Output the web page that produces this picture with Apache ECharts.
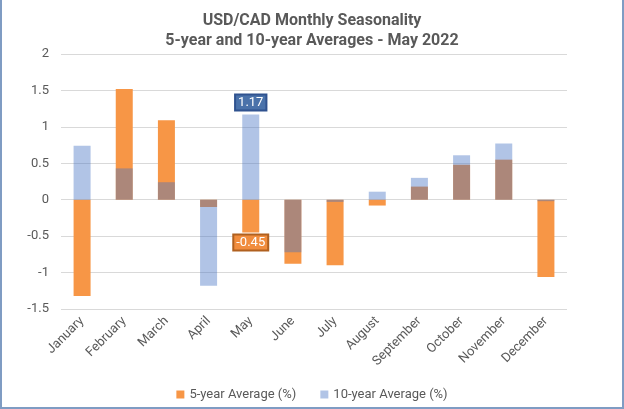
<!DOCTYPE html>
<html>
<head>
<meta charset="utf-8">
<script src="https://cdn.jsdelivr.net/npm/echarts@6/dist/echarts.min.js"></script>
<style>
html,body{margin:0;padding:0;background:#fff;}
#wrap{position:absolute;left:0;top:0;width:624px;height:409px;box-sizing:border-box;border-left:2px solid #7f9cc3;border-right:2px solid #7f9cc3;border-bottom:2px solid #7f9cc3;}
#chart{position:absolute;left:0;top:0;width:624px;height:409px;}
</style>
</head>
<body>
<div id="wrap"></div>
<div id="chart"></div>
<script>
const titleLines = ["USD/CAD Monthly Seasonality", "5-year and 10-year Averages - May 2022"];
const months = ["January","February","March","April","May","June","July","August","September","October","November","December"];
const fiveYear = [-1.32, 1.52, 1.09, -0.10, -0.45, -0.88, -0.90, -0.08, 0.18, 0.48, 0.55, -1.06];
const tenYear = [0.74, 0.43, 0.24, -1.18, 1.17, -0.72, -0.03, 0.11, 0.30, 0.61, 0.77, -0.02];
const seriesNames = ["5-year Average (%)", "10-year Average (%)"];
const highlightIndex = 4;

const chart = echarts.init(document.getElementById('chart'), null, {renderer:'canvas'});
const font = 'Roboto, "Noto Sans", sans-serif';

const orangeData = fiveYear.map((v,i) => i === highlightIndex ? {
  value: v,
  label: {show:true, position:'bottom', distance:3, formatter: p => p.value.toFixed(2),
    color:'#fff', fontSize:13, fontFamily:font, backgroundColor:'#f18d3e', borderColor:'#b0601f', borderWidth:2, padding:[1,2,0,2]}
} : v);
const blueData = tenYear.map((v,i) => i === highlightIndex ? {
  value: v,
  label: {show:true, position:'top', distance:5, formatter: p => p.value.toFixed(2),
    color:'#fff', fontSize:13, fontFamily:font, backgroundColor:'#4a72aa', borderColor:'#2f528f', borderWidth:2, padding:[1,2,0,2]}
} : v);

chart.setOption({
  animation:false,
  title:{
    text: titleLines.join('\n'), left:'center', top:6,
    textStyle:{fontFamily:font, fontSize:16, fontWeight:'bold', color:'#595959', lineHeight:20}
  },
  legend:{
    data: seriesNames, top:383, left:'center', icon:'rect', itemWidth:8, itemHeight:8, itemGap:24,
    textStyle:{fontFamily:font, fontSize:13, color:'#595959'}
  },
  grid:{left:61, right:57, top:54, bottom:100},
  xAxis:{
    type:'category', data: months,
    axisLine:{show:false}, axisTick:{show:false},
    axisLabel:{rotate:45, color:'#595959', fontFamily:font, fontSize:13, margin:10, interval:0}
  },
  yAxis:{
    type:'value', min:-1.5, max:2, interval:0.5,
    axisLine:{show:false}, axisTick:{show:false},
    axisLabel:{color:'#595959', fontFamily:font, fontSize:13, margin:12},
    splitLine:{lineStyle:{color:'#d9d9d9', width:1}}
  },
  series:[
    {name:seriesNames[0], type:'bar', data: orangeData, barWidth:17, barGap:'-100%',
     itemStyle:{color:'#f79646'}},
    {name:seriesNames[1], type:'bar', data: blueData, barWidth:17, barGap:'-100%',
     itemStyle:{color:'rgba(68,114,196,0.42)'}}
  ]
});
</script>
</body>
</html>
